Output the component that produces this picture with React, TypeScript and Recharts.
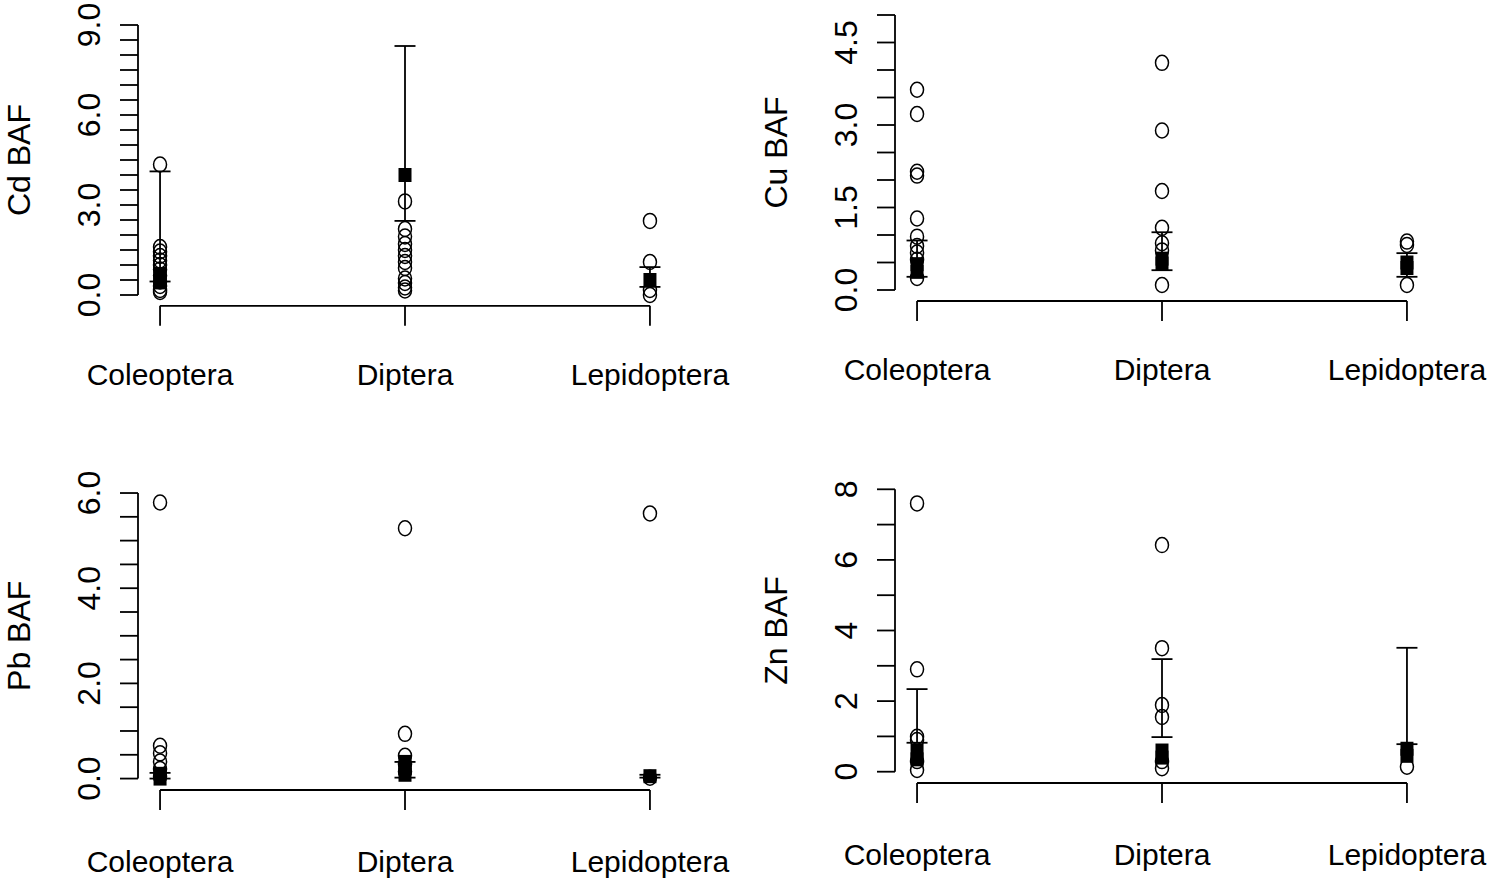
import { ScatterChart, Scatter, XAxis, YAxis, ErrorBar, ReferenceLine, Label } from 'recharts';

const FONT = '"Liberation Sans", Arial, Helvetica, sans-serif';

const categories = ['Coleoptera', 'Diptera', 'Lepidoptera'];

// Cd: raw values (open circles), group means (filled squares), error bar ends
const cdPoints = [
  [4.35, 1.6, 1.45, 1.3, 1.15, 1.0, 0.85, 0.65, 0.45, 0.3, 0.17, 0.1],
  [3.12, 2.2, 1.95, 1.7, 1.5, 1.3, 1.1, 0.9, 0.55, 0.4, 0.25, 0.15],
  [2.47, 1.1, 0.17, 0.0],
];
const cdMeans = [[0.7, 0.42], [4.0], [0.5]];
const cdLow = [0.45, 2.47, 0.27];
const cdHigh = [4.12, 8.3, 0.93];
const cdTickValues = [0, 3, 6, 9];
const cdTickLabels = ['0.0', '3.0', '6.0', '9.0'];

// Cu
const cuPoints = [
  [3.64, 3.2, 2.15, 2.08, 1.3, 0.97, 0.8, 0.68, 0.55, 0.22],
  [4.13, 2.9, 1.8, 1.13, 0.85, 0.72, 0.09],
  [0.88, 0.82, 0.09],
];
const cuMeans = [[0.47, 0.33], [0.57, 0.48], [0.5, 0.4]];
const cuLow = [0.24, 0.36, 0.24];
const cuHigh = [0.9, 1.05, 0.67];
const cuTickValues = [0, 1.5, 3, 4.5];
const cuTickLabels = ['0.0', '1.5', '3.0', '4.5'];

// Pb
const pbPoints = [
  [5.8, 0.69, 0.53, 0.36, 0.2, 0.05],
  [5.26, 0.94, 0.48, 0.3, 0.15],
  [5.57, 0.02],
];
const pbMeans = [[0.1, 0.0], [0.35, 0.22, 0.08], [0.05]];
const pbLow = [0.0, 0.02, 0.02];
const pbHigh = [0.12, 0.35, 0.08];
const pbTickValues = [0, 2, 4, 6];
const pbTickLabels = ['0.0', '2.0', '4.0', '6.0'];

// Zn
const znPoints = [
  [7.6, 2.9, 0.99, 0.9, 0.3, 0.05],
  [6.42, 3.5, 1.89, 1.55, 0.3, 0.1],
  [0.14],
];
const znMeans = [[0.6, 0.35], [0.6, 0.4], [0.65, 0.45]];
const znLow = [0.82, 0.98, 0.78];
const znHigh = [2.34, 3.19, 3.51];
const znTickValues = [0, 2, 4, 6, 8];
const znTickLabels = ['0', '2', '4', '6', '8'];

const OpenCircle = (props: any) => (
  <ellipse cx={props.cx} cy={props.cy} rx={6.5} ry={7.5} fill="none" stroke="#000" strokeWidth={1.5} />
);
const FilledSquare = (props: any) => (
  <rect x={props.cx - 6.5} y={props.cy - 7} width={13} height={14} fill="#000" />
);
const Nothing = () => <g />;

const toPoints = (groups: number[][]) =>
  groups.flatMap((vals, i) => vals.map((v) => ({ x: i + 1, y: v })));

const toBars = (low: number[], high: number[]) =>
  low.map((lo, i) => ({ x: i + 1, y: lo, err: [0, high[i] - lo] }));

type PanelProps = {
  title: string;
  points: number[][];
  means: number[][];
  low: number[];
  high: number[];
  yMax: number;
  step: number;
  tickValues: number[];
  tickLabels: string[];
  box: { left: number; top: number; width: number; height: number };
  plot: { left: number; top: number; right: number; bottom: number };
  labelGap: number;
};

function Panel({ title, points, means, low, high, yMax, step, tickValues, tickLabels, box, plot, labelGap }: PanelProps) {
  const yDomain = [-0.04 * yMax, 1.04 * yMax];
  const xDomain = [0.91, 3.09];
  const yTicks = Array.from({ length: Math.round(yMax / step) + 1 }, (_, i) => i * step);

  const yTick = ({ x, y, payload }: any) => {
    const idx = tickValues.findIndex((v) => Math.abs(v - payload.value) < 1e-6);
    if (idx < 0) return <g />;
    const bx = x - 20;
    return (
      <text x={bx} y={y} transform={`rotate(-90, ${bx}, ${y})`} textAnchor="middle" fontSize={32} fontFamily={FONT} fill="#000">
        {tickLabels[idx]}
      </text>
    );
  };

  const xTick = ({ x, y, payload }: any) => (
    <text x={x} y={y + labelGap - 20} textAnchor="middle" fontSize={30} fontFamily={FONT} fill="#000">
      {categories[payload.value - 1]}
    </text>
  );

  const renderTitle = (p: any) => {
    const vb = p.viewBox;
    const tx = vb.x + vb.width - 108;
    const ty = vb.y + vb.height / 2;
    return (
      <text x={tx} y={ty} transform={`rotate(-90, ${tx}, ${ty})`} textAnchor="middle" fontSize={32} fontFamily={FONT} fill="#000">
        {title}
      </text>
    );
  };

  return (
    <div style={{ position: 'absolute', left: box.left, top: box.top }}>
      <ScatterChart
        width={box.width}
        height={box.height}
        margin={{ top: plot.top, right: box.width - plot.right, bottom: 0, left: 0 }}
      >
        <XAxis
          type="number"
          dataKey="x"
          domain={xDomain}
          allowDataOverflow
          ticks={[1, 2, 3]}
          interval={0}
          axisLine={false}
          tickSize={20}
          tickMargin={0}
          tickLine={{ stroke: '#000', strokeWidth: 1.8 }}
          height={box.height - plot.bottom}
          tick={xTick}
        />
        <YAxis
          type="number"
          dataKey="y"
          domain={yDomain}
          allowDataOverflow
          ticks={yTicks}
          interval={0}
          axisLine={false}
          tickSize={18}
          tickMargin={0}
          tickLine={{ stroke: '#000', strokeWidth: 1.8 }}
          width={plot.left}
          tick={yTick}
        >
          <Label content={renderTitle} />
        </YAxis>
        <ReferenceLine
          segment={[{ x: xDomain[0], y: 0 }, { x: xDomain[0], y: yMax }]}
          stroke="#000"
          strokeWidth={1.8}
          ifOverflow="visible"
        />
        <ReferenceLine
          segment={[{ x: 1, y: yDomain[0] }, { x: 3, y: yDomain[0] }]}
          stroke="#000"
          strokeWidth={1.8}
          ifOverflow="visible"
        />
        <Scatter data={toPoints(points)} shape={OpenCircle} isAnimationActive={false} />
        <Scatter data={toBars(low, high)} shape={Nothing} isAnimationActive={false}>
          <ErrorBar dataKey="err" direction="y" width={10.5} stroke="#000" strokeWidth={1.8} isAnimationActive={false} />
        </Scatter>
        <Scatter data={toPoints(means)} shape={FilledSquare} isAnimationActive={false} />
      </ScatterChart>
    </div>
  );
}

export default function App() {
  return (
    <div style={{ position: 'absolute', left: 0, top: 0, width: 1489, height: 880, background: '#fff' }}>
      <Panel
        title="Cd BAF" points={cdPoints} means={cdMeans} low={cdLow} high={cdHigh}
        yMax={9} step={0.5} tickValues={cdTickValues} tickLabels={cdTickLabels}
        box={{ left: 0, top: 0, width: 745, height: 440 }}
        plot={{ left: 138, top: 14.2, right: 672, bottom: 305.8 }}
        labelGap={79}
      />
      <Panel
        title="Cu BAF" points={cuPoints} means={cuMeans} low={cuLow} high={cuHigh}
        yMax={5} step={0.5} tickValues={cuTickValues} tickLabels={cuTickLabels}
        box={{ left: 745, top: 0, width: 744, height: 440 }}
        plot={{ left: 150, top: 4, right: 684, bottom: 301 }}
        labelGap={79}
      />
      <Panel
        title="Pb BAF" points={pbPoints} means={pbMeans} low={pbLow} high={pbHigh}
        yMax={6} step={0.5} tickValues={pbTickValues} tickLabels={pbTickLabels}
        box={{ left: 0, top: 440, width: 745, height: 440 }}
        plot={{ left: 138, top: 41.6, right: 672, bottom: 350 }}
        labelGap={82}
      />
      <Panel
        title="Zn BAF" points={znPoints} means={znMeans} low={znLow} high={znHigh}
        yMax={8} step={1} tickValues={znTickValues} tickLabels={znTickLabels}
        box={{ left: 745, top: 440, width: 744, height: 440 }}
        plot={{ left: 150, top: 38, right: 684, bottom: 343 }}
        labelGap={82}
      />
    </div>
  );
}
